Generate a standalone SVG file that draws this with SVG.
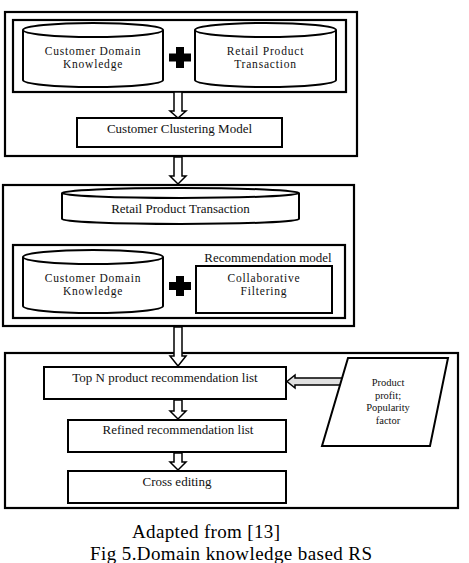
<svg xmlns="http://www.w3.org/2000/svg" width="469" height="563" viewBox="0 0 469 563">
<style>
.box{fill:#fff;stroke:#000;stroke-width:2}
.frame{fill:none;stroke:#000;stroke-width:2.2}
.cyl{fill:#fff;stroke:#000;stroke-width:2}
.arr{fill:#fff;stroke:#000;stroke-width:1.5;stroke-linejoin:miter}
.harr{fill:#e0e0e0;stroke:#000;stroke-width:1.5}
.plus{fill:#000}
text{font-family:"Liberation Serif","Times New Roman",serif;font-size:13px;fill:#111;text-anchor:middle}
.two{font-size:11.5px;letter-spacing:0.8px}
.small{font-size:10.5px}
.cap{font-size:19px;fill:#000}
</style>
<rect width="469" height="563" fill="#fff"/>

<!-- Section 1 -->
<g id="section1">
<rect class="frame" x="5" y="12" width="352" height="144"/>
<rect class="frame" x="13" y="20" width="333" height="72"/>
</g>
<g id="cyl-customer-domain-1">
<path class="cyl" d="M23,30 L23,80 A70,7 0 0 0 163,80 L163,30"/>
<ellipse class="cyl" cx="93" cy="30" rx="70" ry="7"/>
<text class="two" x="93" y="55">Customer Domain</text>
<text class="two" x="93" y="68">Knowledge</text>
</g>
<g id="plus1"><path class="plus" d="M176,47 h8 v6.5 h7 v8 h-7 v6.5 h-8 v-6.5 h-7 v-8 h7 z"/></g>
<g id="cyl-retail-1">
<path class="cyl" d="M195,30 L195,80 A70.5,7 0 0 0 336,80 L336,30"/>
<ellipse class="cyl" cx="265.5" cy="30" rx="70.5" ry="7"/>
<text class="two" x="265.5" y="55">Retail Product</text>
<text class="two" x="265.5" y="68">Transaction</text>
</g>
<g id="clustering-model">
<rect class="box" x="77" y="118" width="205" height="29"/>
<text x="179.5" y="133">Customer Clustering Model</text>
</g>

<!-- Section 2 -->
<g id="section2">
<rect class="frame" x="3" y="185" width="351" height="141"/>
<rect class="frame" x="13" y="245" width="332" height="73"/>
</g>
<g id="cyl-retail-2">
<path class="cyl" d="M62,193 L62,219 A118.5,5 0 0 0 299,219 L299,193"/>
<ellipse class="cyl" cx="180.5" cy="193" rx="118.5" ry="5"/>
<text x="180.5" y="213">Retail Product Transaction</text>
</g>
<g id="cyl-customer-domain-2">
<path class="cyl" d="M23,257 L23,306 A70,7 0 0 0 163,306 L163,257"/>
<ellipse class="cyl" cx="93" cy="257" rx="70" ry="7"/>
<text class="two" x="93" y="282">Customer Domain</text>
<text class="two" x="93" y="295">Knowledge</text>
</g>
<g id="plus2"><path class="plus" d="M176,276 h8 v6 h7 v8 h-7 v6 h-8 v-6 h-7 v-8 h7 z"/></g>
<g id="recommendation-model">
<text x="268" y="262">Recommendation model</text>
<rect class="box" x="196" y="266" width="136" height="47"/>
<text class="two" x="264" y="282">Collaborative</text>
<text class="two" x="264" y="295">Filtering</text>
</g>

<!-- Section 3 -->
<g id="section3">
<rect class="frame" x="5" y="353" width="453" height="155"/>
</g>

<!-- Connectors -->
<g id="connectors">
<path class="arr" d="M174,92 V111 H170 L178,118 L186,111 H182 V92 Z"/>
<path class="arr" d="M174,157 V176 H170 L178,184 L186,176 H182 V157 Z"/>
<path class="arr" d="M174,327 V356 H170 L178,366 L186,356 H182 V327 Z"/>
<path class="arr" d="M174,400 V411 H170 L178,419 L186,411 H182 V400 Z"/>
<path class="arr" d="M174,453 V462 H170 L178,470 L186,462 H182 V453 Z"/>
<path class="harr" d="M342,378 H295 V375 L287,381.5 L295,388 V385 H342 Z"/>
</g>

<g id="top-n">
<rect class="box" x="44" y="367" width="242" height="32"/>
<text x="165" y="382">Top N product recommendation list</text>
</g>
<g id="refined">
<rect class="box" x="68" y="420" width="218" height="32"/>
<text x="178" y="434">Refined recommendation list</text>
</g>
<g id="cross-editing">
<rect class="box" x="68" y="471" width="218" height="32"/>
<text x="177" y="486">Cross editing</text>
</g>
<g id="product-profit">
<polygon class="box" points="348,358 448,358 430,446 322,446"/>
<text class="small" x="388" y="386">Product</text>
<text class="small" x="388" y="398.5">profit;</text>
<text class="small" x="388" y="411">Popularity</text>
<text class="small" x="388" y="423.5">factor</text>
</g>

<g id="caption">
<text class="cap" x="206" y="538" textLength="148" lengthAdjust="spacing">Adapted from [13]</text>
<text class="cap" x="231" y="559.5" textLength="282" lengthAdjust="spacing">Fig 5.Domain knowledge based RS</text>
</g>
</svg>
